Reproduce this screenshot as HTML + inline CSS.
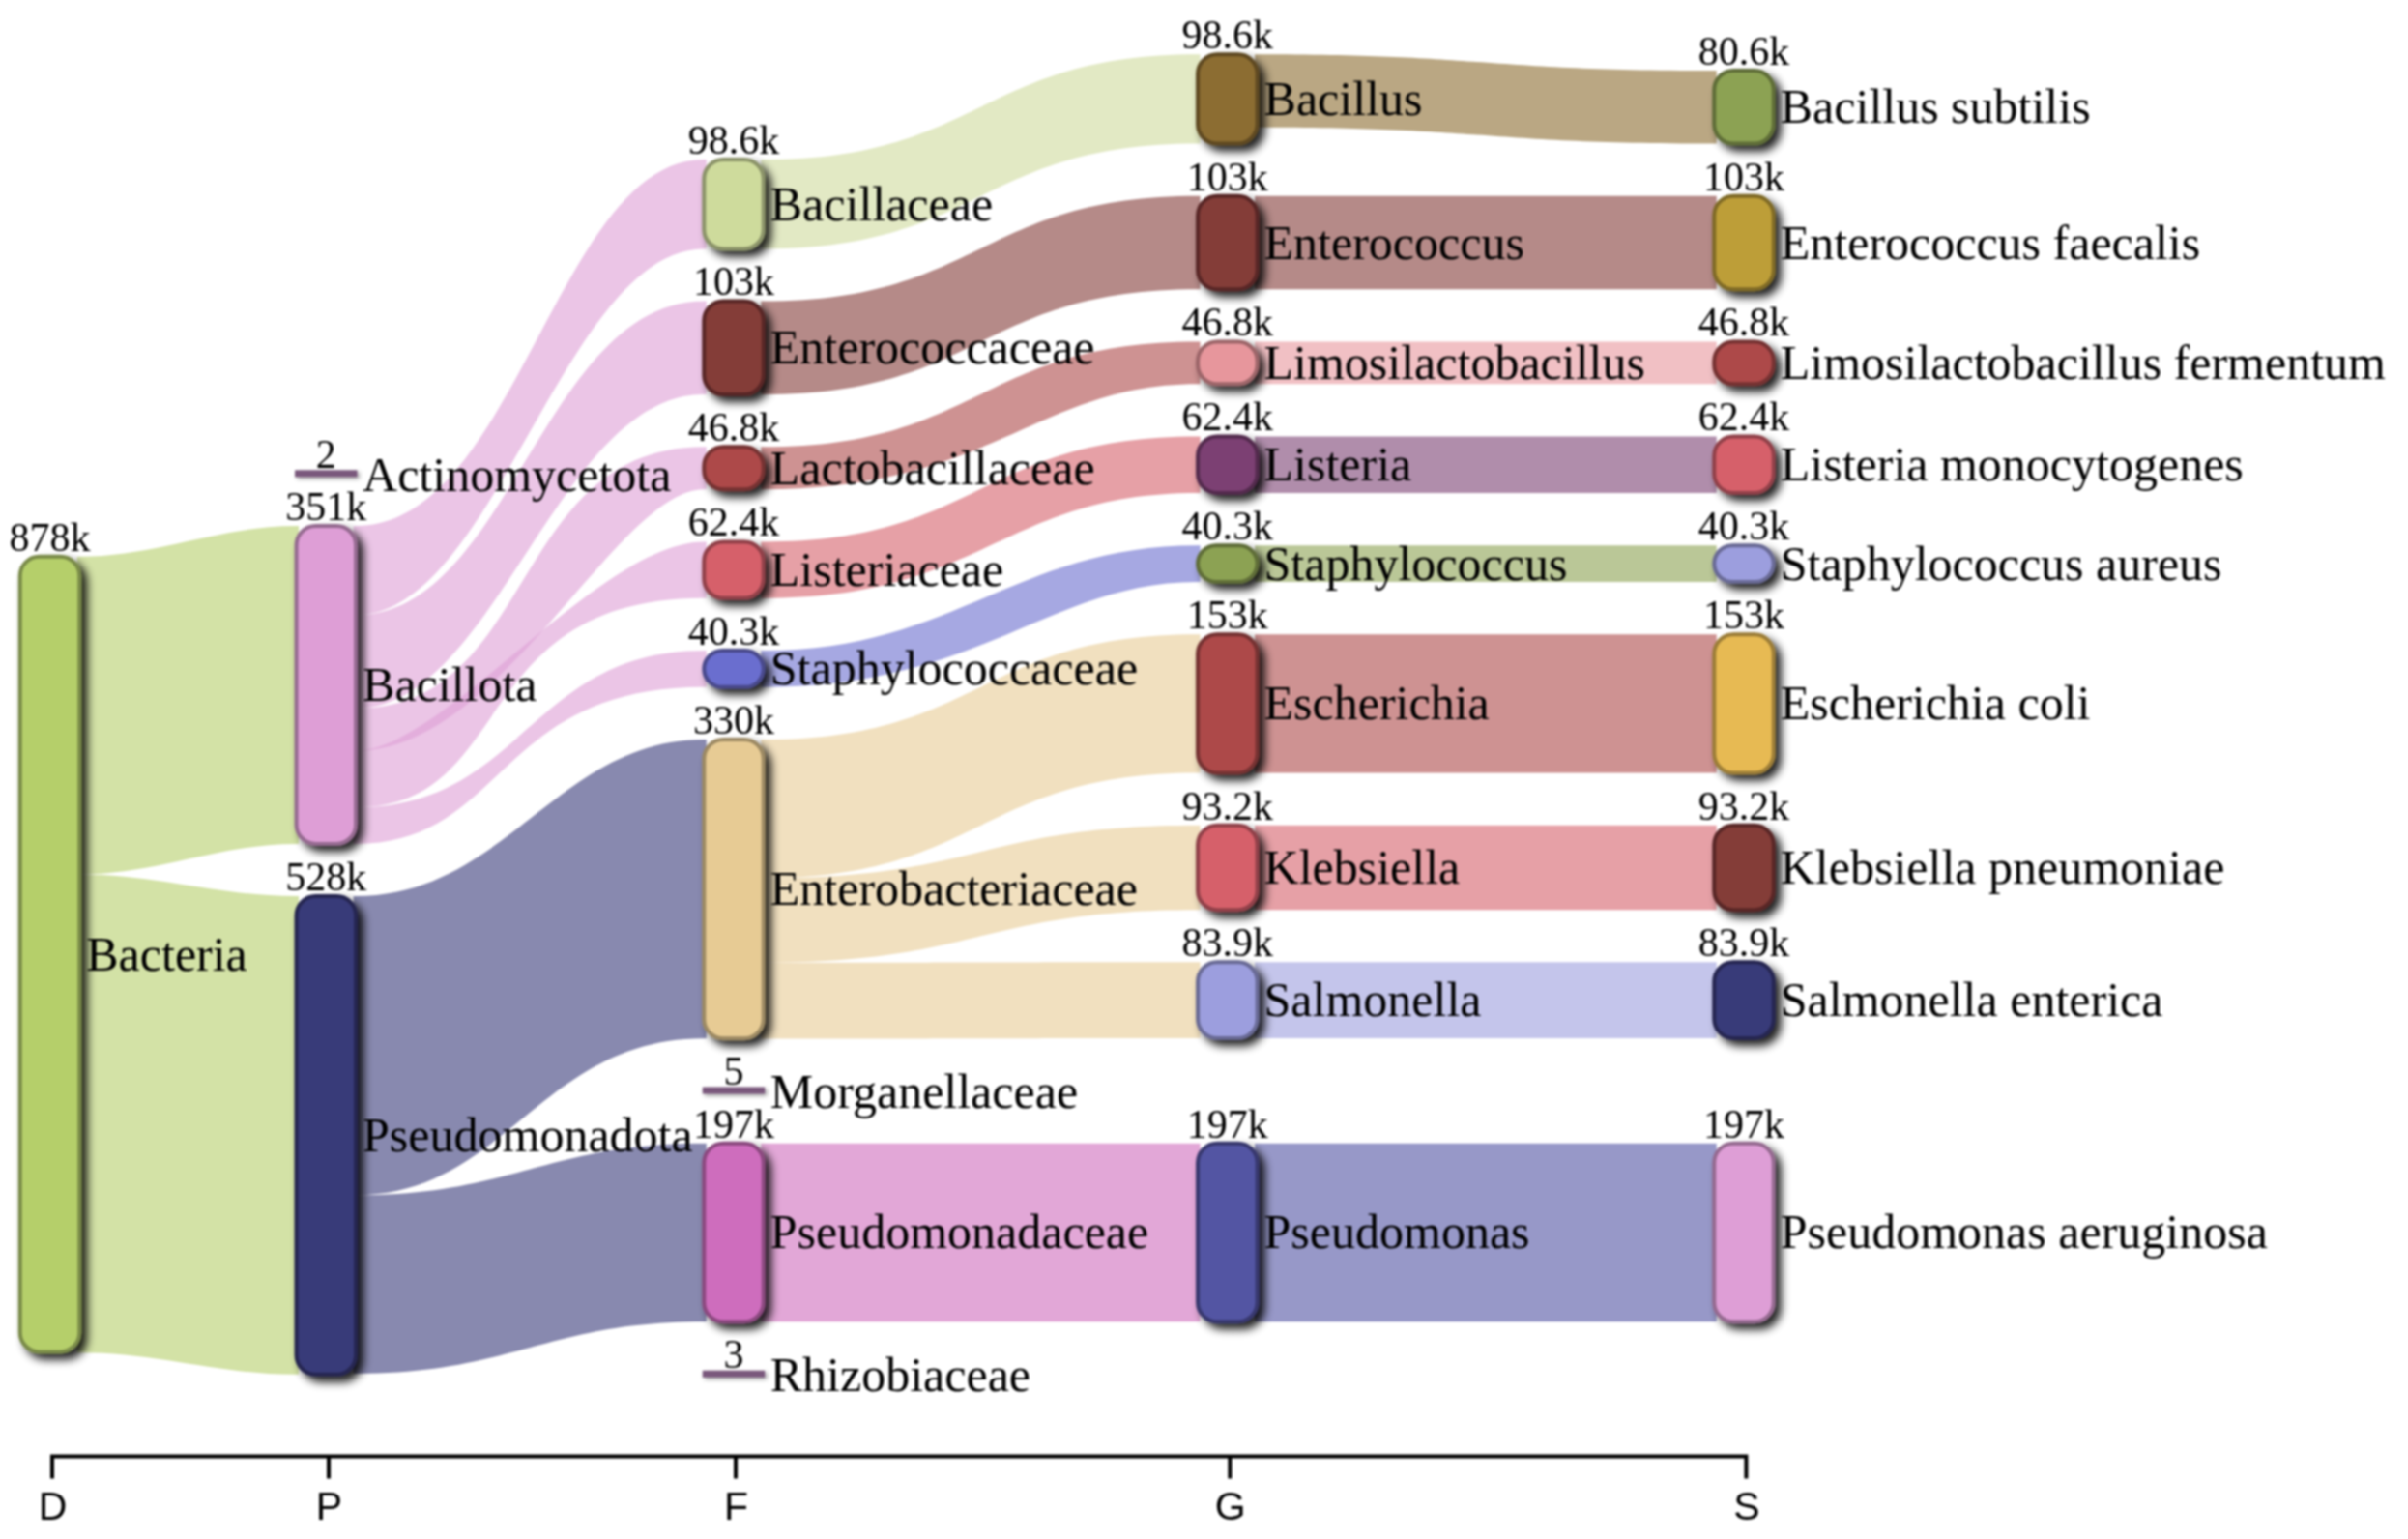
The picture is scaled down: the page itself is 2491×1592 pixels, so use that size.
<!DOCTYPE html>
<html lang="en"><head><meta charset="utf-8"><title>Sankey</title>
<style>html,body{margin:0;padding:0;background:#fff}svg{display:block;filter:blur(0.8px)}.lb{font-family:"Liberation Serif","Times New Roman",serif;font-size:50px;fill:#000}.vl{font-family:"Liberation Serif","Times New Roman",serif;font-size:42px;fill:#000;text-anchor:middle}.ax{font-family:"Liberation Sans",Arial,sans-serif;font-size:41px;fill:#000;text-anchor:middle}</style></head><body>
<svg width="2491" height="1592" viewBox="0 0 2491 1592">
<defs><filter id="ds" x="-50%" y="-50%" width="200%" height="200%" filterUnits="objectBoundingBox"><feGaussianBlur in="SourceAlpha" stdDeviation="4.8"/><feOffset dx="5.5" dy="5.5" result="ob"/><feComponentTransfer><feFuncA type="linear" slope="0.88"/></feComponentTransfer><feMerge><feMergeNode/><feMergeNode in="SourceGraphic"/></feMerge></filter><filter id="ds2" x="0" y="0" width="2491" height="1592" filterUnits="userSpaceOnUse"><feGaussianBlur in="SourceAlpha" stdDeviation="2"/><feOffset dx="2" dy="2" result="ob"/><feComponentTransfer><feFuncA type="linear" slope="0.4"/></feComponentTransfer><feMerge><feMergeNode/><feMergeNode in="SourceGraphic"/></feMerge></filter></defs>
<rect width="2491" height="1592" fill="#fff"/>
<g fill-opacity="0.6" stroke="none">
<path d="M79.75,575.7H82.25C163,575.7 225.8,544 306.55,544H309.05V872.89H306.55C225.8,872.89 163,904.59 82.25,904.59H79.75Z" fill="#b5cf6b"/>
<path d="M79.75,904.59H82.25C163,904.59 225.8,927.1 306.55,927.1H309.05V1421.84H306.55C225.8,1421.84 163,1399.32 82.25,1399.32H79.75Z" fill="#b5cf6b"/>
<path d="M365.55,544H368.05C533.74,544 576.97,165 728.25,165H730.75V257.39H728.25C584.17,257.39 512.13,636.39 368.05,636.39H365.55Z" fill="#de9ed6"/>
<path d="M365.55,636.39H368.05C526.54,636.39 562.56,311.6 728.25,311.6H730.75V408.11H728.25C576.97,408.11 512.13,732.9 368.05,732.9H365.55Z" fill="#de9ed6"/>
<path d="M365.55,732.9H368.05C555.35,732.9 526.54,462.3 728.25,462.3H730.75V506.15H728.25C638.2,506.15 519.33,776.75 368.05,776.75H365.55Z" fill="#de9ed6"/>
<path d="M365.55,776.75H368.05C458.1,776.75 620.19,560.4 728.25,560.4H730.75V618.87H728.25C483.31,618.87 533.74,835.22 368.05,835.22H365.55Z" fill="#de9ed6"/>
<path d="M365.55,835.22H368.05C540.95,835.22 548.15,673.1 728.25,673.1H730.75V710.86H728.25C512.13,710.86 522.94,872.98 368.05,872.98H365.55Z" fill="#de9ed6"/>
<path d="M365.55,927.1H368.05C522.94,927.1 576.97,765.1 728.25,765.1H730.75V1074.31H728.25C558.96,1074.31 522.94,1236.31 368.05,1236.31H365.55Z" fill="#393b79"/>
<path d="M365.55,1236.31H368.05C530.14,1236.31 566.16,1182.7 728.25,1182.7H730.75V1367.29H728.25C566.16,1367.29 530.14,1420.9 368.05,1420.9H365.55Z" fill="#393b79"/>
<path d="M787.25,165H789.75C1014.4,165 1014.4,56.2 1239.05,56.2H1241.55V148.59H1239.05C1014.4,148.59 1014.4,257.39 789.75,257.39H787.25Z" fill="#cedb9c"/>
<path d="M787.25,311.6H789.75C1014.4,311.6 1014.4,202.8 1239.05,202.8H1241.55V299.31H1239.05C1014.4,299.31 1014.4,408.11 789.75,408.11H787.25Z" fill="#843c39"/>
<path d="M787.25,462.3H789.75C1014.4,462.3 1014.4,353.5 1239.05,353.5H1241.55V397.35H1239.05C1072.81,397.35 1027.88,506.15 789.75,506.15H787.25Z" fill="#ad494a"/>
<path d="M787.25,560.4H789.75C1014.4,560.4 1014.4,451.55 1239.05,451.55H1241.55V510.02H1239.05C1036.87,510.02 1018.89,618.87 789.75,618.87H787.25Z" fill="#d6616b"/>
<path d="M787.25,673.1H789.75C987.44,673.1 1050.34,564.2 1239.05,564.2H1241.55V601.96H1239.05C1086.29,601.96 1014.4,710.86 789.75,710.86H787.25Z" fill="#6b6ecf"/>
<path d="M787.25,765.1H789.75C1014.4,765.1 1014.4,656.2 1239.05,656.2H1241.55V799.56H1239.05C1014.4,799.56 1014.4,908.46 789.75,908.46H787.25Z" fill="#e7cb94"/>
<path d="M787.25,908.46H789.75C1014.4,908.46 1014.4,853.8 1239.05,853.8H1241.55V941.13H1239.05C1014.4,941.13 1014.4,995.79 789.75,995.79H787.25Z" fill="#e7cb94"/>
<path d="M787.25,995.79H789.75C1014.4,995.79 1014.4,995.3 1239.05,995.3H1241.55V1073.91H1239.05C1014.4,1073.91 1014.4,1074.4 789.75,1074.4H787.25Z" fill="#e7cb94"/>
<path d="M787.25,1182.7H789.75C1014.4,1182.7 1014.4,1182.7 1239.05,1182.7H1241.55V1367.29H1239.05C1014.4,1367.29 1014.4,1367.29 789.75,1367.29H787.25Z" fill="#ce6dbd"/>
<path d="M1298.05,56.2H1300.55C1536.9,56.2 1536.9,73.1 1773.25,73.1H1775.75V148.62H1773.25C1536.9,148.62 1536.9,131.72 1300.55,131.72H1298.05Z" fill="#8c6d31"/>
<path d="M1298.05,202.8H1300.55C1536.9,202.8 1536.9,202.8 1773.25,202.8H1775.75V299.31H1773.25C1536.9,299.31 1536.9,299.31 1300.55,299.31H1298.05Z" fill="#843c39"/>
<path d="M1298.05,353.5H1300.55C1536.9,353.5 1536.9,353.5 1773.25,353.5H1775.75V397.35H1773.25C1536.9,397.35 1536.9,397.35 1300.55,397.35H1298.05Z" fill="#e7969c"/>
<path d="M1298.05,451.55H1300.55C1536.9,451.55 1536.9,451.55 1773.25,451.55H1775.75V510.02H1773.25C1536.9,510.02 1536.9,510.02 1300.55,510.02H1298.05Z" fill="#7b4173"/>
<path d="M1298.05,564.2H1300.55C1536.9,564.2 1536.9,564.2 1773.25,564.2H1775.75V601.96H1773.25C1536.9,601.96 1536.9,601.96 1300.55,601.96H1298.05Z" fill="#8ca252"/>
<path d="M1298.05,656.2H1300.55C1536.9,656.2 1536.9,656.2 1773.25,656.2H1775.75V799.56H1773.25C1536.9,799.56 1536.9,799.56 1300.55,799.56H1298.05Z" fill="#ad494a"/>
<path d="M1298.05,853.8H1300.55C1536.9,853.8 1536.9,853.8 1773.25,853.8H1775.75V941.13H1773.25C1536.9,941.13 1536.9,941.13 1300.55,941.13H1298.05Z" fill="#d6616b"/>
<path d="M1298.05,995.3H1300.55C1536.9,995.3 1536.9,995.3 1773.25,995.3H1775.75V1073.91H1773.25C1536.9,1073.91 1536.9,1073.91 1300.55,1073.91H1298.05Z" fill="#9c9ede"/>
<path d="M1298.05,1182.7H1300.55C1536.9,1182.7 1536.9,1182.7 1773.25,1182.7H1775.75V1367.29H1773.25C1536.9,1367.29 1536.9,1367.29 1300.55,1367.29H1298.05Z" fill="#5254a3"/>
</g>
<g stroke-width="4">
<rect x="20.75" y="575.7" width="61.5" height="822.69" rx="20" ry="20" fill="#b5cf6b" stroke="#7a8b48" filter="url(#ds)"/>
<rect x="305.05" y="486.3" width="64.5" height="7" fill="#7a587c" stroke="none" filter="url(#ds2)"/>
<rect x="306.55" y="544" width="61.5" height="328.89" rx="20" ry="20" fill="#de9ed6" stroke="#956a90" filter="url(#ds)"/>
<rect x="306.55" y="927.1" width="61.5" height="494.74" rx="20" ry="20" fill="#393b79" stroke="#262751" filter="url(#ds)"/>
<rect x="728.25" y="165" width="61.5" height="92.39" rx="20" ry="20" fill="#cedb9c" stroke="#8b9369" filter="url(#ds)"/>
<rect x="728.25" y="311.6" width="61.5" height="96.51" rx="20" ry="20" fill="#843c39" stroke="#592826" filter="url(#ds)"/>
<rect x="728.25" y="462.3" width="61.5" height="43.85" rx="20" ry="20" fill="#ad494a" stroke="#743131" filter="url(#ds)"/>
<rect x="728.25" y="560.4" width="61.5" height="58.47" rx="20" ry="20" fill="#d6616b" stroke="#904148" filter="url(#ds)"/>
<rect x="728.25" y="673.1" width="61.5" height="37.76" rx="18.88" ry="18.88" fill="#6b6ecf" stroke="#484a8b" filter="url(#ds)"/>
<rect x="728.25" y="765.1" width="61.5" height="309.21" rx="20" ry="20" fill="#e7cb94" stroke="#9c8963" filter="url(#ds)"/>
<rect x="726.75" y="1124.5" width="64.5" height="7" fill="#7a587c" stroke="none" filter="url(#ds2)"/>
<rect x="728.25" y="1182.7" width="61.5" height="184.59" rx="20" ry="20" fill="#ce6dbd" stroke="#8b497f" filter="url(#ds)"/>
<rect x="726.75" y="1417.7" width="64.5" height="7" fill="#7a587c" stroke="none" filter="url(#ds2)"/>
<rect x="1239.05" y="56.2" width="61.5" height="92.39" rx="20" ry="20" fill="#8c6d31" stroke="#5e4921" filter="url(#ds)"/>
<rect x="1239.05" y="202.8" width="61.5" height="96.51" rx="20" ry="20" fill="#843c39" stroke="#592826" filter="url(#ds)"/>
<rect x="1239.05" y="353.5" width="61.5" height="43.85" rx="20" ry="20" fill="#e7969c" stroke="#9c6569" filter="url(#ds)"/>
<rect x="1239.05" y="451.55" width="61.5" height="58.47" rx="20" ry="20" fill="#7b4173" stroke="#532b4d" filter="url(#ds)"/>
<rect x="1239.05" y="564.2" width="61.5" height="37.76" rx="18.88" ry="18.88" fill="#8ca252" stroke="#5e6d37" filter="url(#ds)"/>
<rect x="1239.05" y="656.2" width="61.5" height="143.36" rx="20" ry="20" fill="#ad494a" stroke="#743131" filter="url(#ds)"/>
<rect x="1239.05" y="853.8" width="61.5" height="87.33" rx="20" ry="20" fill="#d6616b" stroke="#904148" filter="url(#ds)"/>
<rect x="1239.05" y="995.3" width="61.5" height="78.61" rx="20" ry="20" fill="#9c9ede" stroke="#696a95" filter="url(#ds)"/>
<rect x="1239.05" y="1182.7" width="61.5" height="184.59" rx="20" ry="20" fill="#5254a3" stroke="#37386e" filter="url(#ds)"/>
<rect x="1773.25" y="73.1" width="61.5" height="75.52" rx="20" ry="20" fill="#8ca252" stroke="#5e6d37" filter="url(#ds)"/>
<rect x="1773.25" y="202.8" width="61.5" height="96.51" rx="20" ry="20" fill="#bd9e39" stroke="#7f6a26" filter="url(#ds)"/>
<rect x="1773.25" y="353.5" width="61.5" height="43.85" rx="20" ry="20" fill="#ad494a" stroke="#743131" filter="url(#ds)"/>
<rect x="1773.25" y="451.55" width="61.5" height="58.47" rx="20" ry="20" fill="#d6616b" stroke="#904148" filter="url(#ds)"/>
<rect x="1773.25" y="564.2" width="61.5" height="37.76" rx="18.88" ry="18.88" fill="#9c9ede" stroke="#696a95" filter="url(#ds)"/>
<rect x="1773.25" y="656.2" width="61.5" height="143.36" rx="20" ry="20" fill="#e7ba52" stroke="#9c7d37" filter="url(#ds)"/>
<rect x="1773.25" y="853.8" width="61.5" height="87.33" rx="20" ry="20" fill="#843c39" stroke="#592826" filter="url(#ds)"/>
<rect x="1773.25" y="995.3" width="61.5" height="78.61" rx="20" ry="20" fill="#393b79" stroke="#262751" filter="url(#ds)"/>
<rect x="1773.25" y="1182.7" width="61.5" height="184.59" rx="20" ry="20" fill="#de9ed6" stroke="#956a90" filter="url(#ds)"/>
</g>
<text class="lb" x="89.25" y="1003.54">Bacteria</text>
<text class="vl" x="51.5" y="569.5">878k</text>
<text class="lb" x="375.05" y="507.8">Actinomycetota</text>
<text class="vl" x="337.3" y="483.6">2</text>
<text class="lb" x="375.05" y="724.94">Bacillota</text>
<text class="vl" x="337.3" y="537.8">351k</text>
<text class="lb" x="375.05" y="1190.97">Pseudomonadota</text>
<text class="vl" x="337.3" y="920.9">528k</text>
<text class="lb" x="796.75" y="227.69">Bacillaceae</text>
<text class="vl" x="759" y="158.8">98.6k</text>
<text class="lb" x="796.75" y="376.36">Enterococcaceae</text>
<text class="vl" x="759" y="305.4">103k</text>
<text class="lb" x="796.75" y="500.73">Lactobacillaceae</text>
<text class="vl" x="759" y="456.1">46.8k</text>
<text class="lb" x="796.75" y="606.13">Listeriaceae</text>
<text class="vl" x="759" y="554.2">62.4k</text>
<text class="lb" x="796.75" y="708.48">Staphylococcaceae</text>
<text class="vl" x="759" y="666.9">40.3k</text>
<text class="lb" x="796.75" y="936.21">Enterobacteriaceae</text>
<text class="vl" x="759" y="758.9">330k</text>
<text class="lb" x="796.75" y="1146">Morganellaceae</text>
<text class="vl" x="759" y="1121.8">5</text>
<text class="lb" x="796.75" y="1291.49">Pseudomonadaceae</text>
<text class="vl" x="759" y="1176.5">197k</text>
<text class="lb" x="796.75" y="1439.2">Rhizobiaceae</text>
<text class="vl" x="759" y="1415">3</text>
<text class="lb" x="1307.55" y="118.89">Bacillus</text>
<text class="vl" x="1269.8" y="50">98.6k</text>
<text class="lb" x="1307.55" y="267.56">Enterococcus</text>
<text class="vl" x="1269.8" y="196.6">103k</text>
<text class="lb" x="1307.55" y="391.93">Limosilactobacillus</text>
<text class="vl" x="1269.8" y="347.3">46.8k</text>
<text class="lb" x="1307.55" y="497.28">Listeria</text>
<text class="vl" x="1269.8" y="445.35">62.4k</text>
<text class="lb" x="1307.55" y="599.58">Staphylococcus</text>
<text class="vl" x="1269.8" y="558">40.3k</text>
<text class="lb" x="1307.55" y="744.38">Escherichia</text>
<text class="vl" x="1269.8" y="650">153k</text>
<text class="lb" x="1307.55" y="913.96">Klebsiella</text>
<text class="vl" x="1269.8" y="847.6">93.2k</text>
<text class="lb" x="1307.55" y="1051.11">Salmonella</text>
<text class="vl" x="1269.8" y="989.1">83.9k</text>
<text class="lb" x="1307.55" y="1291.49">Pseudomonas</text>
<text class="vl" x="1269.8" y="1176.5">197k</text>
<text class="lb" x="1841.75" y="127.36">Bacillus subtilis</text>
<text class="vl" x="1804" y="66.9">80.6k</text>
<text class="lb" x="1841.75" y="267.56">Enterococcus faecalis</text>
<text class="vl" x="1804" y="196.6">103k</text>
<text class="lb" x="1841.75" y="391.93">Limosilactobacillus fermentum</text>
<text class="vl" x="1804" y="347.3">46.8k</text>
<text class="lb" x="1841.75" y="497.28">Listeria monocytogenes</text>
<text class="vl" x="1804" y="445.35">62.4k</text>
<text class="lb" x="1841.75" y="599.58">Staphylococcus aureus</text>
<text class="vl" x="1804" y="558">40.3k</text>
<text class="lb" x="1841.75" y="744.38">Escherichia coli</text>
<text class="vl" x="1804" y="650">153k</text>
<text class="lb" x="1841.75" y="913.96">Klebsiella pneumoniae</text>
<text class="vl" x="1804" y="847.6">93.2k</text>
<text class="lb" x="1841.75" y="1051.11">Salmonella enterica</text>
<text class="vl" x="1804" y="989.1">83.9k</text>
<text class="lb" x="1841.75" y="1291.49">Pseudomonas aeruginosa</text>
<text class="vl" x="1804" y="1176.5">197k</text>
<path d="M54,1529.5 V1506.5 H1806.4 V1529.5" fill="none" stroke="#000" stroke-width="4"/>
<path d="M340,1506.5 v23" fill="none" stroke="#000" stroke-width="4"/>
<path d="M761,1506.5 v23" fill="none" stroke="#000" stroke-width="4"/>
<path d="M1272.3,1506.5 v23" fill="none" stroke="#000" stroke-width="4"/>
<text class="ax" x="54.5" y="1571.7">D</text>
<text class="ax" x="340.5" y="1571.7">P</text>
<text class="ax" x="761.5" y="1571.7">F</text>
<text class="ax" x="1272.8" y="1571.7">G</text>
<text class="ax" x="1806.9" y="1571.7">S</text>
</svg></body></html>
